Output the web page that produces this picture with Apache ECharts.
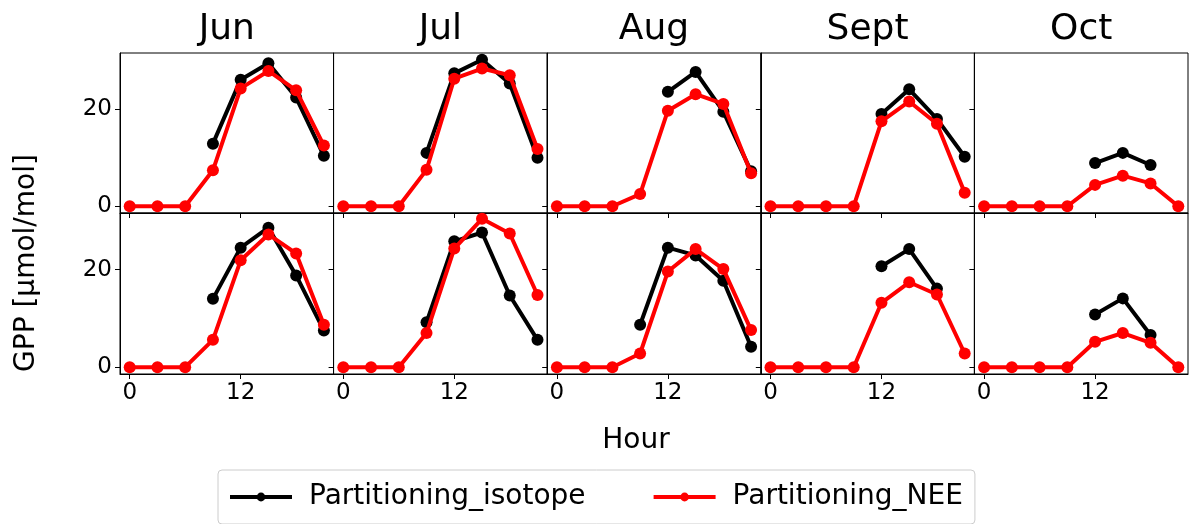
<!DOCTYPE html>
<html>
<head>
    <meta charset="UTF-8">
    <title>GPP partitioning</title>
    <script type="text/javascript" src="https://cdn.jsdelivr.net/npm/echarts@6/dist/echarts.min.js"></script>
</head>
<body style="margin:0">
    <div id="gpp" style="width:1199px; height:524px;"></div>
    <script>
        // data
        var months = ['Jun', 'Jul', 'Aug', 'Sept', 'Oct'];
        var hours = [0, 3, 6, 9, 12, 15, 18, 21];
        var xTicks = [0, 12];
        var yTicks = [0, 20];

        // top row
        var isoTop = [
            [null, null, null, 12.9, 26.1, 29.5, 22.4, 10.4],
            [null, null, null, 11.0, 27.4, 30.2, 25.3, 10.0],
            [null, null, null, null, 23.6, 27.7, 19.5, 7.2],
            [null, null, null, null, 19.0, 24.1, 18.0, 10.2],
            [null, null, null, null, 8.9, 11.0, 8.5, null]
        ];
        var neeTop = [
            [0, 0, 0, 7.4, 24.3, 27.9, 23.9, 12.5],
            [0, 0, 0, 7.5, 26.3, 28.4, 27.0, 11.8],
            [0, 0, 0, 2.5, 19.7, 23.1, 21.1, 6.8],
            [0, 0, 0, 0, 17.5, 21.6, 17.0, 2.8],
            [0, 0, 0, 0, 4.4, 6.3, 4.7, 0]
        ];
        // bottom row
        var isoBottom = [
            [null, null, null, 14.0, 24.5, 28.6, 18.8, 7.5],
            [null, null, null, 9.2, 25.8, 27.6, 14.7, 5.6],
            [null, null, null, 8.7, 24.5, 22.9, 17.7, 4.2],
            [null, null, null, null, 20.7, 24.2, 16.1, null],
            [null, null, null, null, 10.8, 14.1, 6.6, null]
        ];
        var neeBottom = [
            [0, 0, 0, 5.6, 21.9, 27.2, 23.3, 8.7],
            [0, 0, 0, 7.0, 24.3, 30.4, 27.4, 14.8],
            [0, 0, 0, 2.8, 19.6, 24.2, 20.1, 7.6],
            [0, 0, 0, 0, 13.2, 17.4, 14.9, 2.8],
            [0, 0, 0, 0, 5.2, 7.0, 5.0, 0]
        ];

        var FONT = 'DejaVu Sans';
        var left0 = 120, panelW = 213.6;
        var rowTop = [53, 213], rowH = [160, 161];

        function pairs(vals) {
            var out = [];
            for (var k = 0; k < hours.length; k++) {
                if (vals[k] !== null) out.push([hours[k], vals[k]]);
            }
            return out;
        }

        var grids = [], xAxes = [], yAxes = [], series = [], graphics = [];
        var rows = [[isoTop, neeTop], [isoBottom, neeBottom]];

        for (var r = 0; r < 2; r++) {
            for (var c = 0; c < 5; c++) {
                var idx = r * 5 + c;
                grids.push({
                    left: left0 + c * panelW, top: rowTop[r],
                    width: panelW, height: rowH[r],
                    show: true, borderColor: '#000', borderWidth: 1,
                    backgroundColor: '#fff'
                });
                xAxes.push({
                    type: 'value', gridIndex: idx, min: -1.05, max: 22.05,
                    splitLine: {show: false},
                    axisLine: {show: true, onZero: false, lineStyle: {color: '#000', width: 1}},
                    axisTick: {show: true, length: 5, customValues: xTicks, lineStyle: {color: '#000'}},
                    axisLabel: {show: r === 1, customValues: xTicks, margin: 8,
                        color: '#000', fontFamily: FONT, fontSize: 23}
                });
                yAxes.push({
                    type: 'value', gridIndex: idx, min: -1.4, max: 31.6,
                    splitLine: {show: false},
                    axisLine: {show: true, onZero: false, lineStyle: {color: '#000', width: 1}},
                    axisTick: {show: true, length: 5, customValues: yTicks, lineStyle: {color: '#000'}},
                    axisLabel: {show: c === 0, customValues: yTicks, margin: 8,
                        color: '#000', fontFamily: FONT, fontSize: 23}
                });
                series.push({
                    name: 'Partitioning_isotope', type: 'line',
                    xAxisIndex: idx, yAxisIndex: idx,
                    data: pairs(rows[r][0][c]),
                    symbol: 'circle', symbolSize: 12,
                    itemStyle: {color: '#000'},
                    lineStyle: {color: '#000', width: 4},
                    z: 2
                });
                series.push({
                    name: 'Partitioning_NEE', type: 'line',
                    xAxisIndex: idx, yAxisIndex: idx,
                    data: pairs(rows[r][1][c]),
                    symbol: 'circle', symbolSize: 12,
                    itemStyle: {color: '#ff0000'},
                    lineStyle: {color: '#ff0000', width: 4},
                    z: 3
                });
            }
        }

        // month titles
        for (var m = 0; m < months.length; m++) {
            graphics.push({
                type: 'text', x: left0 + (m + 0.5) * panelW, y: 30,
                style: {text: months[m], fill: '#000', font: '36px "' + FONT + '"',
                    textAlign: 'center', textVerticalAlign: 'middle'}
            });
        }
        graphics.push({
            type: 'text', x: 27, y: 263, rotation: Math.PI / 2,
            style: {text: 'GPP [μmol/mol]', fill: '#000', font: '28px "' + FONT + '"',
                textAlign: 'center', textVerticalAlign: 'middle'}
        });
        graphics.push({
            type: 'text', x: 636, y: 441,
            style: {text: 'Hour', fill: '#000', font: '28px "' + FONT + '"',
                textAlign: 'center', textVerticalAlign: 'middle'}
        });

        var chart_gpp = echarts.init(document.getElementById('gpp'), null, {renderer: 'canvas'});
        var option_gpp = {
            animation: false,
            backgroundColor: '#fff',
            grid: grids,
            xAxis: xAxes,
            yAxis: yAxes,
            series: series,
            graphic: graphics,
            legend: {
                data: ['Partitioning_isotope', 'Partitioning_NEE'],
                left: 218, top: 470,
                padding: [13, 12, 13, 10],
                borderColor: '#ccc', borderWidth: 1, borderRadius: 4,
                itemWidth: 62, itemHeight: 11, itemGap: 66,
                lineStyle: {width: 4},
                textStyle: {color: '#000', fontFamily: FONT, fontSize: 28,
                    padding: [0, 0, 0, 12]}
            }
        };
        chart_gpp.setOption(option_gpp);
    </script>
</body>
</html>
